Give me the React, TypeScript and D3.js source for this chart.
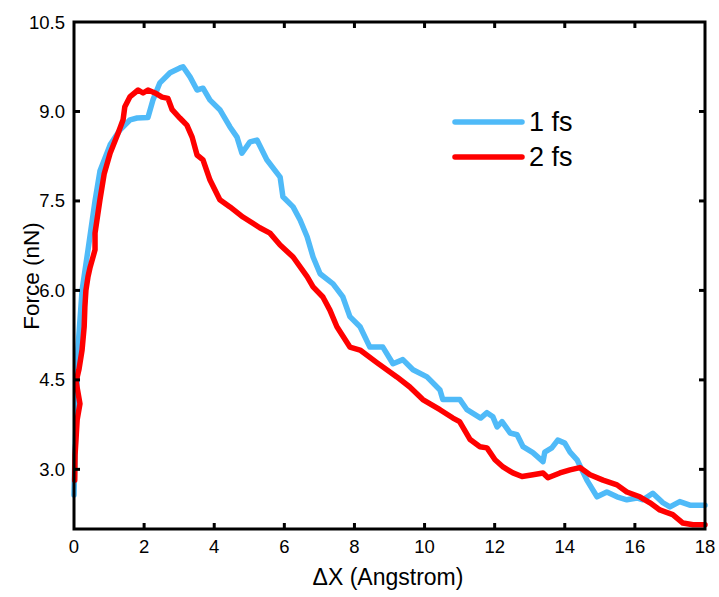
import React, { useEffect, useRef } from "react";
import * as d3 from "d3";

// values
const fs1X = [0, 0.03, 0.06, 0.11, 0.23, 0.4, 0.6, 0.74, 1.03, 1.31, 1.6, 1.8, 2.11, 2.25, 2.45, 2.74, 3.02, 3.11, 3.31, 3.51, 3.68, 3.88, 4.16, 4.45, 4.65, 4.79, 5.02, 5.22, 5.5, 5.88, 5.96, 6.25, 6.45, 6.65, 6.82, 7.02, 7.39, 7.67, 7.87, 8.16, 8.44, 8.81, 9.1, 9.38, 9.67, 10.07, 10.44, 10.52, 11.01, 11.21, 11.6, 11.78, 11.95, 12.07, 12.21, 12.44, 12.64, 12.81, 13.09, 13.38, 13.43, 13.63, 13.8, 14.0, 14.15, 14.35, 14.63, 14.92, 15.2, 15.49, 15.77, 16.06, 16.23, 16.51, 16.8, 17.0, 17.28, 17.57, 18.0];
const fs1Y = [2.57, 3.3, 3.83, 5.0, 6.0, 6.68, 7.5, 8.0, 8.44, 8.69, 8.86, 8.89, 8.9, 9.19, 9.48, 9.65, 9.73, 9.75, 9.58, 9.36, 9.39, 9.19, 9.03, 8.74, 8.57, 8.3, 8.49, 8.52, 8.19, 7.9, 7.57, 7.4, 7.18, 6.9, 6.56, 6.28, 6.11, 5.89, 5.56, 5.39, 5.05, 5.05, 4.77, 4.84, 4.67, 4.55, 4.33, 4.17, 4.17, 4.0, 3.86, 3.95, 3.88, 3.71, 3.8, 3.61, 3.58, 3.38, 3.28, 3.13, 3.29, 3.36, 3.49, 3.44, 3.29, 3.16, 2.82, 2.54, 2.62, 2.54, 2.49, 2.52, 2.49, 2.6, 2.44, 2.37, 2.46, 2.4, 2.4];

const fs2X = [0.02, 0.03, 0.09, 0.17, 0.06, 0.14, 0.23, 0.29, 0.31, 0.34, 0.4, 0.46, 0.6, 0.6, 0.74, 0.86, 1.03, 1.26, 1.4, 1.45, 1.6, 1.83, 1.97, 2.11, 2.31, 2.51, 2.68, 2.8, 3.02, 3.22, 3.37, 3.51, 3.68, 3.88, 4.16, 4.45, 4.82, 5.3, 5.59, 5.88, 6.25, 6.65, 6.82, 7.1, 7.3, 7.5, 7.87, 8.16, 8.64, 9.21, 9.58, 9.95, 10.44, 10.81, 11.0, 11.3, 11.58, 11.78, 12.01, 12.24, 12.52, 12.78, 13.09, 13.38, 13.52, 13.86, 14.15, 14.43, 14.72, 15.09, 15.49, 15.77, 16.14, 16.43, 16.71, 17.08, 17.37, 17.66, 18.0];
const fs2Y = [2.82, 3.24, 3.83, 4.1, 4.47, 4.67, 5.0, 5.39, 5.72, 6.0, 6.23, 6.39, 6.68, 6.96, 7.52, 7.95, 8.3, 8.64, 8.86, 9.08, 9.25, 9.36, 9.31, 9.36, 9.31, 9.24, 9.22, 9.03, 8.89, 8.77, 8.57, 8.27, 8.19, 7.85, 7.52, 7.4, 7.23, 7.05, 6.96, 6.76, 6.56, 6.23, 6.06, 5.89, 5.67, 5.39, 5.05, 5.0, 4.79, 4.55, 4.38, 4.17, 4.0, 3.86, 3.8, 3.5, 3.38, 3.36, 3.16, 3.04, 2.94, 2.88, 2.91, 2.94, 2.86, 2.94, 2.99, 3.03, 2.91, 2.82, 2.74, 2.62, 2.54, 2.44, 2.32, 2.24, 2.1, 2.07, 2.07];

const xTicks = [0, 2, 4, 6, 8, 10, 12, 14, 16, 18];
const yTicks = [3.0, 4.5, 6.0, 7.5, 9.0, 10.5];
const seriesNames = ["1 fs", "2 fs"];
const seriesColors = ["#4fbaf8", "#ff0000"];

const App = () => {
  const ref = useRef<SVGSVGElement>(null);

  useEffect(() => {
    document.body.style.margin = "0";
    const svg = d3.select(ref.current);
    svg.selectAll("*").remove();

    const left = 74, right = 705, top = 22, bottom = 529;
    const font = "Liberation Sans, Arial, sans-serif";

    const x = d3.scaleLinear().domain([0, 18]).range([left, right]);
    const y = d3.scaleLinear().domain([2, 10.5]).range([bottom, top]);

    // data lines
    const line = d3
      .line<[number, number]>()
      .x((d) => x(d[0]))
      .y((d) => y(d[1]));

    const series: [number, number][][] = [
      fs1X.map((v, i) => [v, fs1Y[i]]),
      fs2X.map((v, i) => [v, fs2Y[i]]),
    ];

    series.forEach((s, i) => {
      svg
        .append("path")
        .datum(s)
        .attr("d", line)
        .attr("fill", "none")
        .attr("stroke", seriesColors[i])
        .attr("stroke-width", 5.5)
        .attr("stroke-linejoin", "round")
        .attr("stroke-linecap", "round");
    });

    // frame
    svg
      .append("rect")
      .attr("x", left)
      .attr("y", top)
      .attr("width", right - left)
      .attr("height", bottom - top)
      .attr("fill", "none")
      .attr("stroke", "#000")
      .attr("stroke-width", 3);

    // ticks on all four sides, pointing inward
    const tl = 6;
    xTicks.slice(1, -1).forEach((t) => {
      svg.append("line").attr("x1", x(t)).attr("x2", x(t)).attr("y1", bottom).attr("y2", bottom - tl)
        .attr("stroke", "#000").attr("stroke-width", 3);
      svg.append("line").attr("x1", x(t)).attr("x2", x(t)).attr("y1", top).attr("y2", top + tl)
        .attr("stroke", "#000").attr("stroke-width", 3);
    });
    yTicks.slice(0, -1).forEach((t) => {
      svg.append("line").attr("x1", left).attr("x2", left + tl).attr("y1", y(t)).attr("y2", y(t))
        .attr("stroke", "#000").attr("stroke-width", 3);
      svg.append("line").attr("x1", right).attr("x2", right - tl).attr("y1", y(t)).attr("y2", y(t))
        .attr("stroke", "#000").attr("stroke-width", 3);
    });

    // tick labels
    svg
      .selectAll(".xlab")
      .data(xTicks)
      .enter()
      .append("text")
      .attr("x", (d) => x(d))
      .attr("y", 553)
      .attr("text-anchor", "middle")
      .attr("font-family", font)
      .attr("font-size", 18.5)
      .text((d) => d);

    svg
      .selectAll(".ylab")
      .data(yTicks)
      .enter()
      .append("text")
      .attr("x", 65)
      .attr("y", (d) => y(d) + 6.5)
      .attr("text-anchor", "end")
      .attr("font-family", font)
      .attr("font-size", 18.5)
      .text((d) => d.toFixed(1));

    // axis titles
    svg
      .append("text")
      .attr("x", 388)
      .attr("y", 585)
      .attr("text-anchor", "middle")
      .attr("font-family", font)
      .attr("font-size", 23)
      .text("ΔX (Angstrom)");

    svg
      .append("text")
      .attr("transform", `translate(39, 276) rotate(-90)`)
      .attr("text-anchor", "middle")
      .attr("font-family", font)
      .attr("font-size", 22.5)
      .text("Force (nN)");

    // legend
    seriesNames.forEach((name, i) => {
      const ly = 122 + i * 35;
      svg.append("line").attr("x1", 455).attr("x2", 522).attr("y1", ly).attr("y2", ly)
        .attr("stroke", seriesColors[i]).attr("stroke-width", 5.5).attr("stroke-linecap", "round");
      svg.append("text").attr("x", 529).attr("y", ly + 9)
        .attr("font-family", font).attr("font-size", 27).text(name);
    });
  }, []);

  return <svg ref={ref} width={719} height={597} style={{ display: "block" }}></svg>;
};

export default App;
